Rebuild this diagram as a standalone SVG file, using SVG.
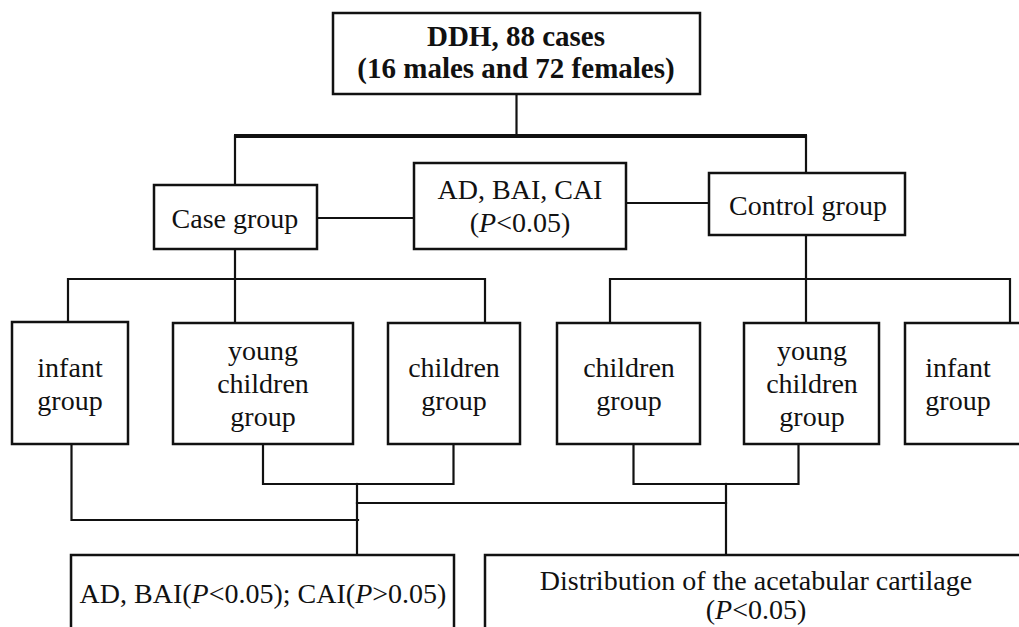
<svg xmlns="http://www.w3.org/2000/svg" width="1019" height="627" viewBox="0 0 1019 627">
<style>
.box{fill:#fff;stroke:#111;stroke-width:2.5}
.ln{fill:none;stroke:#111;stroke-width:2.2;stroke-linecap:square}
.thick{fill:none;stroke:#111;stroke-width:4}
text{font-family:"Liberation Serif","Times New Roman",serif;font-size:28px;fill:#111;text-anchor:middle}
.b{font-weight:bold;font-size:29px}
.i{font-style:italic}
</style>
<rect width="1019" height="627" fill="#fff"/>
<g id="connectors">
<path class="ln" d="M516.5 94 V136"/>
<path class="thick" d="M234 136 H807"/>
<path class="ln" d="M235 136 V185 M806 136 V173"/>
<path class="ln" d="M317 218 H414 M626 203 H709"/>
<path class="ln" d="M235 249 V279 M68 279 H485 M68 279 V322 M235 279 V323 M485 279 V323"/>
<path class="ln" d="M806 235 V279 M610 279 H1010 M610 279 V323 M806 279 V323 M1010 279 V323"/>
<path class="ln" d="M71.5 444 V520 H358"/>
<path class="ln" d="M263 444 V484 H453.5 V444"/>
<path class="ln" d="M357 484 V555"/>
<path class="ln" d="M357 503 H726"/>
<path class="ln" d="M633.5 444 V484 H798.5 V444"/>
<path class="ln" d="M726 484 V555"/>
</g>
<g id="n-ddh">
<rect class="box" x="333" y="13" width="367" height="81"/>
<text class="b" x="516" y="46">DDH, 88 cases</text>
<text class="b" x="516" y="78">(16 males and 72 females)</text>
</g>
<g id="n-case">
<rect class="box" x="154" y="185" width="163" height="64"/>
<text x="235" y="228">Case group</text>
</g>
<g id="n-adbai">
<rect class="box" x="414" y="163" width="212" height="86"/>
<text x="520" y="199">AD, BAI, CAI</text>
<text x="520" y="232">(<tspan class="i">P</tspan>&lt;0.05)</text>
</g>
<g id="n-control">
<rect class="box" x="709" y="173" width="196" height="62"/>
<text x="808" y="215">Control group</text>
</g>
<g id="n-infant-l">
<rect class="box" x="12" y="322" width="116" height="122"/>
<text x="70" y="377">infant</text>
<text x="70" y="410">group</text>
</g>
<g id="n-young-l">
<rect class="box" x="173" y="323" width="180" height="121"/>
<text x="263" y="360">young</text>
<text x="263" y="393">children</text>
<text x="263" y="426">group</text>
</g>
<g id="n-children-l">
<rect class="box" x="388" y="323" width="132" height="121"/>
<text x="454" y="377">children</text>
<text x="454" y="410">group</text>
</g>
<g id="n-children-r">
<rect class="box" x="557" y="323" width="143" height="121"/>
<text x="629" y="377">children</text>
<text x="629" y="410">group</text>
</g>
<g id="n-young-r">
<rect class="box" x="744" y="323" width="135" height="121"/>
<text x="812" y="360">young</text>
<text x="812" y="393">children</text>
<text x="812" y="426">group</text>
</g>
<g id="n-infant-r">
<rect class="box" x="905" y="323" width="130" height="121"/>
<text x="958" y="377">infant</text>
<text x="958" y="410">group</text>
</g>
<g id="n-result-l">
<rect class="box" x="71" y="555" width="383" height="90"/>
<text x="263" y="603">AD, BAI(<tspan class="i">P</tspan>&lt;0.05); CAI(<tspan class="i">P</tspan>&gt;0.05)</text>
</g>
<g id="n-result-r">
<rect class="box" x="485" y="555" width="550" height="90"/>
<text x="756" y="590">Distribution of the acetabular cartilage</text>
<text x="756" y="619">(<tspan class="i">P</tspan>&lt;0.05)</text>
</g>
</svg>
